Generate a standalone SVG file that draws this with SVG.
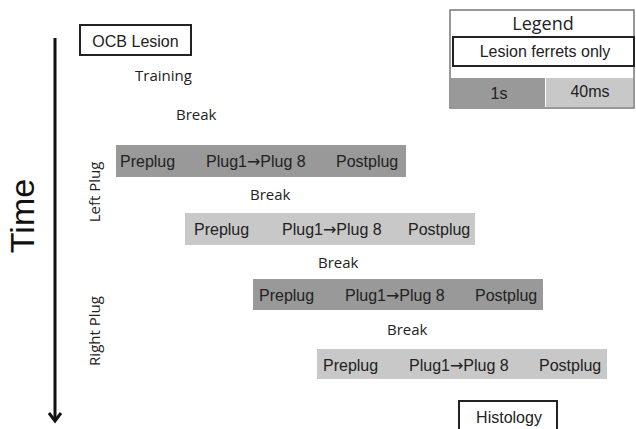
<svg xmlns="http://www.w3.org/2000/svg" width="636" height="429" viewBox="0 0 636 429">
<style>
.bar-text{font-family:"Liberation Sans",Arial,sans-serif;font-size:16px;fill:#222}
.arr{font-family:"DejaVu Sans",sans-serif;font-size:16px}
.cal{font-family:"Open Sans","Noto Sans",sans-serif;font-size:15px;fill:#222}
.dark{fill:#999999}
.light{fill:#c8c8c8}
.box{fill:#fff;stroke:#222;stroke-width:2}
</style>
<rect width="636" height="429" fill="#fff"/>
<g id="time-axis">
<line x1="55" y1="38" x2="55" y2="421" stroke="#111" stroke-width="3"/>
<polyline points="49,413 55,421 61,413" fill="none" stroke="#111" stroke-width="3"/>
<text transform="translate(34,216) rotate(-90)" text-anchor="middle" font-family="Liberation Sans,Arial,sans-serif" font-size="34" fill="#111">Time</text>
</g>
<g id="ocb-lesion">
<rect class="box" x="80" y="25" width="111" height="30"/>
<text class="bar-text" x="135.5" y="47" text-anchor="middle">OCB Lesion</text>
</g>
<g id="training"><text class="cal" x="135" y="81">Training</text></g>
<g id="break1"><text class="cal" x="176" y="120">Break</text></g>
<g id="left-plug-label"><text class="cal" transform="translate(100,192) rotate(-90)" text-anchor="middle">Left Plug</text></g>
<g id="bar1">
<rect class="dark" x="116" y="145" width="290" height="32"/>
<text class="bar-text" x="120" y="167">Preplug</text>
<text class="bar-text" x="206" y="167">Plug1<tspan class="arr">→</tspan>Plug 8</text>
<text class="bar-text" x="336" y="167">Postplug</text>
</g>
<g id="break2"><text class="cal" x="250" y="200">Break</text></g>
<g id="bar2">
<rect class="light" x="185" y="213" width="290" height="32"/>
<text class="bar-text" x="194" y="235">Preplug</text>
<text class="bar-text" x="282" y="235">Plug1<tspan class="arr">→</tspan>Plug 8</text>
<text class="bar-text" x="408" y="235">Postplug</text>
</g>
<g id="break3"><text class="cal" x="318" y="268">Break</text></g>
<g id="bar3">
<rect class="dark" x="253" y="279" width="290" height="31"/>
<text class="bar-text" x="259" y="301">Preplug</text>
<text class="bar-text" x="345" y="301">Plug1<tspan class="arr">→</tspan>Plug 8</text>
<text class="bar-text" x="475" y="301">Postplug</text>
</g>
<g id="break4"><text class="cal" x="387" y="335">Break</text></g>
<g id="right-plug-label"><text class="cal" transform="translate(100,331) rotate(-90)" text-anchor="middle">Right Plug</text></g>
<g id="bar4">
<rect class="light" x="317" y="349" width="290" height="30"/>
<text class="bar-text" x="323" y="371">Preplug</text>
<text class="bar-text" x="409" y="371">Plug1<tspan class="arr">→</tspan>Plug 8</text>
<text class="bar-text" x="539" y="371">Postplug</text>
</g>
<g id="histology">
<rect class="box" x="459" y="401" width="98" height="34"/>
<text class="bar-text" x="509" y="423" text-anchor="middle">Histology</text>
</g>
<g id="legend">
<rect x="450" y="10" width="184" height="98" fill="#fff" stroke="#777" stroke-width="1.5"/>
<text x="543" y="30" text-anchor="middle" font-family="Open Sans,Noto Sans,sans-serif" font-size="18" fill="#222">Legend</text>
<rect class="box" x="453" y="37" width="181" height="29"/>
<text class="bar-text" x="545" y="57" text-anchor="middle">Lesion ferrets only</text>
<rect class="dark" x="451" y="78" width="94" height="29"/>
<rect class="light" x="546" y="78" width="87" height="29"/>
<text class="bar-text" x="499" y="99" text-anchor="middle">1s</text>
<text class="bar-text" x="590" y="97" text-anchor="middle">40ms</text>
</g>
</svg>
